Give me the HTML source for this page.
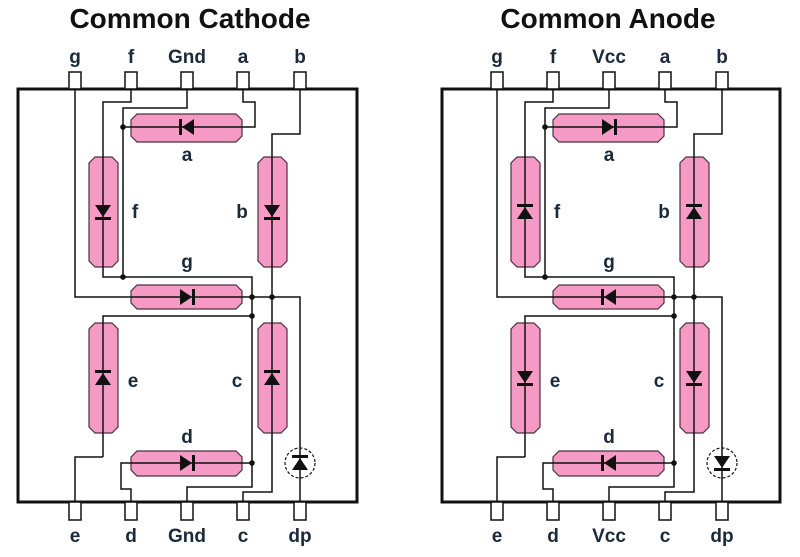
<!DOCTYPE html>
<html><head><meta charset="utf-8"><style>
html,body{margin:0;padding:0;background:#fff}
svg{display:block}
text{font-family:"Liberation Sans",sans-serif;font-weight:bold}
</style></head><body>
<svg width="800" height="557" viewBox="0 0 800 557" xmlns="http://www.w3.org/2000/svg">
<defs>
<g id="pins" fill="#fff" stroke="#111" stroke-width="1.5">
<rect x="69" y="72" width="12" height="17"/><rect x="125" y="72" width="12" height="17"/><rect x="181" y="72" width="12" height="17"/><rect x="237" y="72" width="12" height="17"/><rect x="294" y="72" width="12" height="17"/>
<rect x="69" y="502" width="12" height="18"/><rect x="125" y="502" width="12" height="18"/><rect x="181" y="502" width="12" height="18"/><rect x="237" y="502" width="12" height="18"/><rect x="294" y="502" width="12" height="18"/>
</g>
<g id="segs" fill="#f49ac4" stroke="#4a3040" stroke-width="1.2">
<polygon points="137,114 236,114 242,120 242,136 236,142 137,142 131,136 131,120"/>
<polygon points="131,291 137,285 236,285 242,291 242,303 236,309 137,309 131,303"/>
<polygon points="131,457 137,451 236,451 242,457 242,470 236,476 137,476 131,470"/>
<polygon points="95,157 112,157 118,163 118,261 112,267 95,267 89,261 89,163"/>
<polygon points="264,157 281,157 287,163 287,261 281,267 264,267 258,261 258,163"/>
<polygon points="95,323 112,323 118,329 118,427 112,433 95,433 89,427 89,329"/>
<polygon points="264,323 281,323 287,329 287,427 281,433 264,433 258,427 258,329"/>
</g>
<g id="wires" fill="none" stroke="#111" stroke-width="1.5">
<polyline points="75,89 75,297 300,297 300,502"/>
<polyline points="131,89 131,102 103,102 103,277 252,277 252,487 187,487 187,502"/>
<polyline points="187,89 187,108 123,108 123,277"/>
<polyline points="243,89 243,102 255,102 255,127 123,127"/>
<polyline points="300,89 300,134 272,134 272,492 243,492 243,502"/>
<polyline points="103,457 103,316 252,316"/>
<polyline points="103,457 75,457 75,502"/>
<polyline points="131,502 131,489 121,489 121,463 252,463"/>
</g>
<g id="dots" fill="#111">
<circle cx="123" cy="127" r="2.8"/><circle cx="123" cy="277" r="2.8"/><circle cx="252" cy="297" r="2.8"/><circle cx="272" cy="297" r="2.8"/><circle cx="252" cy="316" r="2.8"/><circle cx="252" cy="463" r="2.8"/>
</g>
<g id="di" fill="#111"><polygon points="-7,-8 5,0 -7,8"/><rect x="5" y="-8" width="3" height="16"/></g>
<g id="labels" fill="#1b2a3a" font-size="19" text-anchor="middle">
<text x="75" y="63">g</text><text x="131" y="63">f</text><text x="243" y="63">a</text><text x="300" y="63">b</text>
<text x="75" y="542">e</text><text x="131" y="542">d</text><text x="243" y="542">c</text><text x="300" y="542">dp</text>
<text x="187" y="161">a</text><text x="135" y="218">f</text><text x="242" y="218">b</text><text x="187" y="268">g</text>
<text x="133" y="387">e</text><text x="237" y="387">c</text><text x="187" y="443">d</text>
</g>
</defs>

<!-- LEFT -->
<text x="190" y="28" font-size="28" text-anchor="middle" fill="#111">Common Cathode</text>
<rect x="18" y="89" width="339" height="413" fill="none" stroke="#111" stroke-width="3"/>
<use href="#pins"/>
<use href="#segs"/>
<use href="#wires"/>
<circle cx="300" cy="463" r="15" fill="#fff" stroke="#111" stroke-width="1.2" stroke-dasharray="3,2"/>
<line x1="300" y1="448" x2="300" y2="478" stroke="#111" stroke-width="1.5"/>
<use href="#dots"/>
<use href="#labels"/>
<text x="187" y="63" font-size="19" text-anchor="middle" fill="#1b2a3a">Gnd</text>
<text x="187" y="542" font-size="19" text-anchor="middle" fill="#1b2a3a">Gnd</text>
<use href="#di" transform="translate(187,127) rotate(180)"/>
<use href="#di" transform="translate(103,212) rotate(90)"/>
<use href="#di" transform="translate(272,212) rotate(90)"/>
<use href="#di" transform="translate(187,297)"/>
<use href="#di" transform="translate(103,378) rotate(-90)"/>
<use href="#di" transform="translate(272,378) rotate(-90)"/>
<use href="#di" transform="translate(187,463)"/>
<use href="#di" transform="translate(300,463) rotate(-90)"/>

<!-- RIGHT -->
<g transform="translate(422,0)">
<text x="186" y="28" font-size="28" text-anchor="middle" fill="#111">Common Anode</text>
<rect x="20" y="89" width="338" height="413" fill="none" stroke="#111" stroke-width="3"/>
<use href="#pins"/>
<use href="#segs"/>
<use href="#wires"/>
<circle cx="300" cy="463" r="15" fill="#fff" stroke="#111" stroke-width="1.2" stroke-dasharray="3,2"/>
<line x1="300" y1="448" x2="300" y2="478" stroke="#111" stroke-width="1.5"/>
<use href="#dots"/>
<use href="#labels"/>
<text x="187" y="63" font-size="19" text-anchor="middle" fill="#1b2a3a">Vcc</text>
<text x="187" y="542" font-size="19" text-anchor="middle" fill="#1b2a3a">Vcc</text>
<use href="#di" transform="translate(187,127)"/>
<use href="#di" transform="translate(103,212) rotate(-90)"/>
<use href="#di" transform="translate(272,212) rotate(-90)"/>
<use href="#di" transform="translate(187,297) rotate(180)"/>
<use href="#di" transform="translate(103,378) rotate(90)"/>
<use href="#di" transform="translate(272,378) rotate(90)"/>
<use href="#di" transform="translate(187,463) rotate(180)"/>
<use href="#di" transform="translate(300,463) rotate(90)"/>
</g>
</svg>
</body></html>
